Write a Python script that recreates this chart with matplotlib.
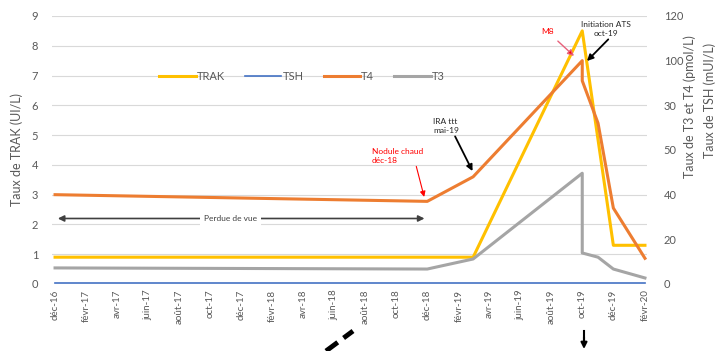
import numpy as np
import pandas as pd
import matplotlib
matplotlib.use("Agg")
import matplotlib.pyplot as plt
import matplotlib.dates as mdates

plt.rcParams['font.family'] = ['Lato', 'DejaVu Sans']

# TRAK (UI/L), axe de gauche
trak_dates = pd.to_datetime(["2016-12-01", "2018-12-01", "2019-03-01", "2019-10-01", "2019-12-01", "2020-02-01"])
trak = [0.9, 0.9, 0.9, 8.5, 1.3, 1.3]

# T4, T3 (pmol/L) et TSH (mUI/L), axe de droite
hormone_dates = pd.to_datetime(["2016-12-01", "2018-12-01", "2019-03-01", "2019-10-01",
                                "2019-10-01", "2019-11-01", "2019-12-01", "2020-02-01"])
t4 = [40, 37, 48, 100, 91, 72, 34, 11.5]
t3 = [7.2, 6.7, 11.2, 49.6, 13.9, 12, 6.7, 2.7]
tsh = [0.3, 0.3, 0.3, 0.3, 0.3, 0.3, 0.3, 0.3]

tick_dates = pd.date_range("2016-12-01", "2020-02-01", freq="2MS")
tick_labels = ["déc-16", "févr-17", "avr-17", "juin-17", "août-17", "oct-17", "déc-17",
               "févr-18", "avr-18", "juin-18", "août-18", "oct-18", "déc-18", "févr-19",
               "avr-19", "juin-19", "août-19", "oct-19", "déc-19", "févr-20"]
left_ticks = list(range(0, 10))
right_ticks = [0, 20, 40, 60, 80, 100, 120]
right_tick_labels = ["0", "20", "40", "50", "30", "100", "120"]

grey = "#595959"
fig = plt.figure(figsize=(7.21, 3.51), dpi=100)
ax = fig.add_axes([52 / 721, 1 - 284 / 351, (647 - 52) / 721, (284 - 16) / 351])
ax2 = ax.twinx()

ax.set_ylim(0, 9)
ax2.set_ylim(0, 120)
ax.set_xlim(pd.Timestamp("2016-11-25"), pd.Timestamp("2020-02-05"))

ax.set_yticks(left_ticks)
ax2.set_yticks(right_ticks)
ax2.set_yticklabels(right_tick_labels)
ax.set_xticks(tick_dates)
ax.set_xticklabels(tick_labels, rotation=90)

ax.grid(axis='y', color="#D9D9D9", lw=0.8)
ax.set_axisbelow(True)
for a in (ax, ax2):
    for s in a.spines.values():
        s.set_visible(False)
    a.tick_params(length=0, colors=grey, labelsize=8)
ax.tick_params(axis='x', labelsize=7, pad=4)
ax.tick_params(axis='y', pad=10)
ax2.tick_params(axis='y', pad=12)

l1, = ax.plot(trak_dates, trak, color="#FFC000", lw=2.2, label="TRAK", zorder=3)
l2, = ax2.plot(hormone_dates, tsh, color="#4472C4", lw=1.2, label="TSH")
l3, = ax2.plot(hormone_dates, t4, color="#ED7D31", lw=2.2, label="T4")
l4, = ax2.plot(hormone_dates, t3, color="#A5A5A5", lw=2.2, label="T3")
ax2.legend(handles=[l1, l2, l3, l4], loc='center', bbox_to_anchor=(0.42, 0.775), ncol=4,
           frameon=False, fontsize=8, handlelength=3.3, handletextpad=0.1, columnspacing=1.8,
           labelcolor=grey)

ax.set_ylabel("Taux de TRAK (UI/L)", color=grey, fontsize=9, labelpad=6)
fig.text(690 / 721, 1 - 107 / 351, "Taux de T3 et T4 (pmol/L)", rotation=90, ha='center', va='center',
         color=grey, fontsize=9)
fig.text(710 / 721, 1 - 100 / 351, "Taux de TSH (mUI/L)", rotation=90, ha='center', va='center',
         color=grey, fontsize=9)

# annotations
def fp(x, y):
    return (x, 351 - y)

ax.annotate("", xy=(pd.Timestamp("2016-12-01"), 2.2), xytext=(pd.Timestamp("2018-12-01"), 2.2),
            arrowprops=dict(arrowstyle='<|-|>', color="#404040", lw=1.2, mutation_scale=9))
ax.text(pd.Timestamp("2017-11-10"), 2.2, "Perdue de vue", ha='center', va='center', fontsize=6,
        color="#404040", bbox=dict(facecolor='white', edgecolor='none', pad=3))

ax2.annotate("Nodule chaud\ndéc-18", xy=(pd.Timestamp("2018-11-25"), 39), xytext=fp(372, 156),
             textcoords='figure pixels', ha='left', va='center', fontsize=6, color="#FF0000",
             arrowprops=dict(arrowstyle='-|>', color="#FF0000", lw=0.8, mutation_scale=8,
                             shrinkA=0, shrinkB=0, relpos=(0.85, 0.0)))
ax2.annotate("IRA ttt\nmai-19", xy=(pd.Timestamp("2019-03-01"), 50), xytext=fp(433, 126),
             textcoords='figure pixels', ha='left', va='center', fontsize=6, color="#262626",
             arrowprops=dict(arrowstyle='-|>', color="black", lw=1.3, mutation_scale=9,
                             shrinkA=0, shrinkB=1, relpos=(0.8, 0.0)))
ax.annotate("M8", xy=fp(574, 56), xycoords='figure pixels', xytext=fp(548, 32),
            textcoords='figure pixels', ha='center', va='center', fontsize=6, color="#FF0000",
            arrowprops=dict(arrowstyle='-|>', color="#E8607A", ec="#E8607A", fc="#FF0000", lw=1,
                            mutation_scale=9, shrinkA=3, shrinkB=0))
ax.annotate("Initiation ATS\noct-19", xy=fp(587, 61), xycoords='figure pixels', xytext=fp(606, 29),
            textcoords='figure pixels', ha='center', va='center', fontsize=6, color="#262626",
            arrowprops=dict(arrowstyle='-|>', color="black", lw=1.3, mutation_scale=9,
                            shrinkA=0, shrinkB=0, relpos=(0.6, 0.0)))

fig.add_artist(plt.Line2D([584 / 721, 584 / 721], [1 - 331 / 351, 1 - 342 / 351], color="black", lw=1.5))
ax.annotate("", xy=fp(584, 349), xycoords='figure pixels', xytext=fp(584, 337),
            textcoords='figure pixels', annotation_clip=False,
            arrowprops=dict(arrowstyle='-|>', color="black", lw=1.5, mutation_scale=9, shrinkA=0, shrinkB=0))
fig.add_artist(plt.Line2D([326 / 721, 353 / 721], [1 - 351 / 351, 1 - 331 / 351], color="black",
                          lw=3.5, dashes=(3, 1.5), solid_capstyle='round'))

fig.savefig("out.png", dpi=100)
